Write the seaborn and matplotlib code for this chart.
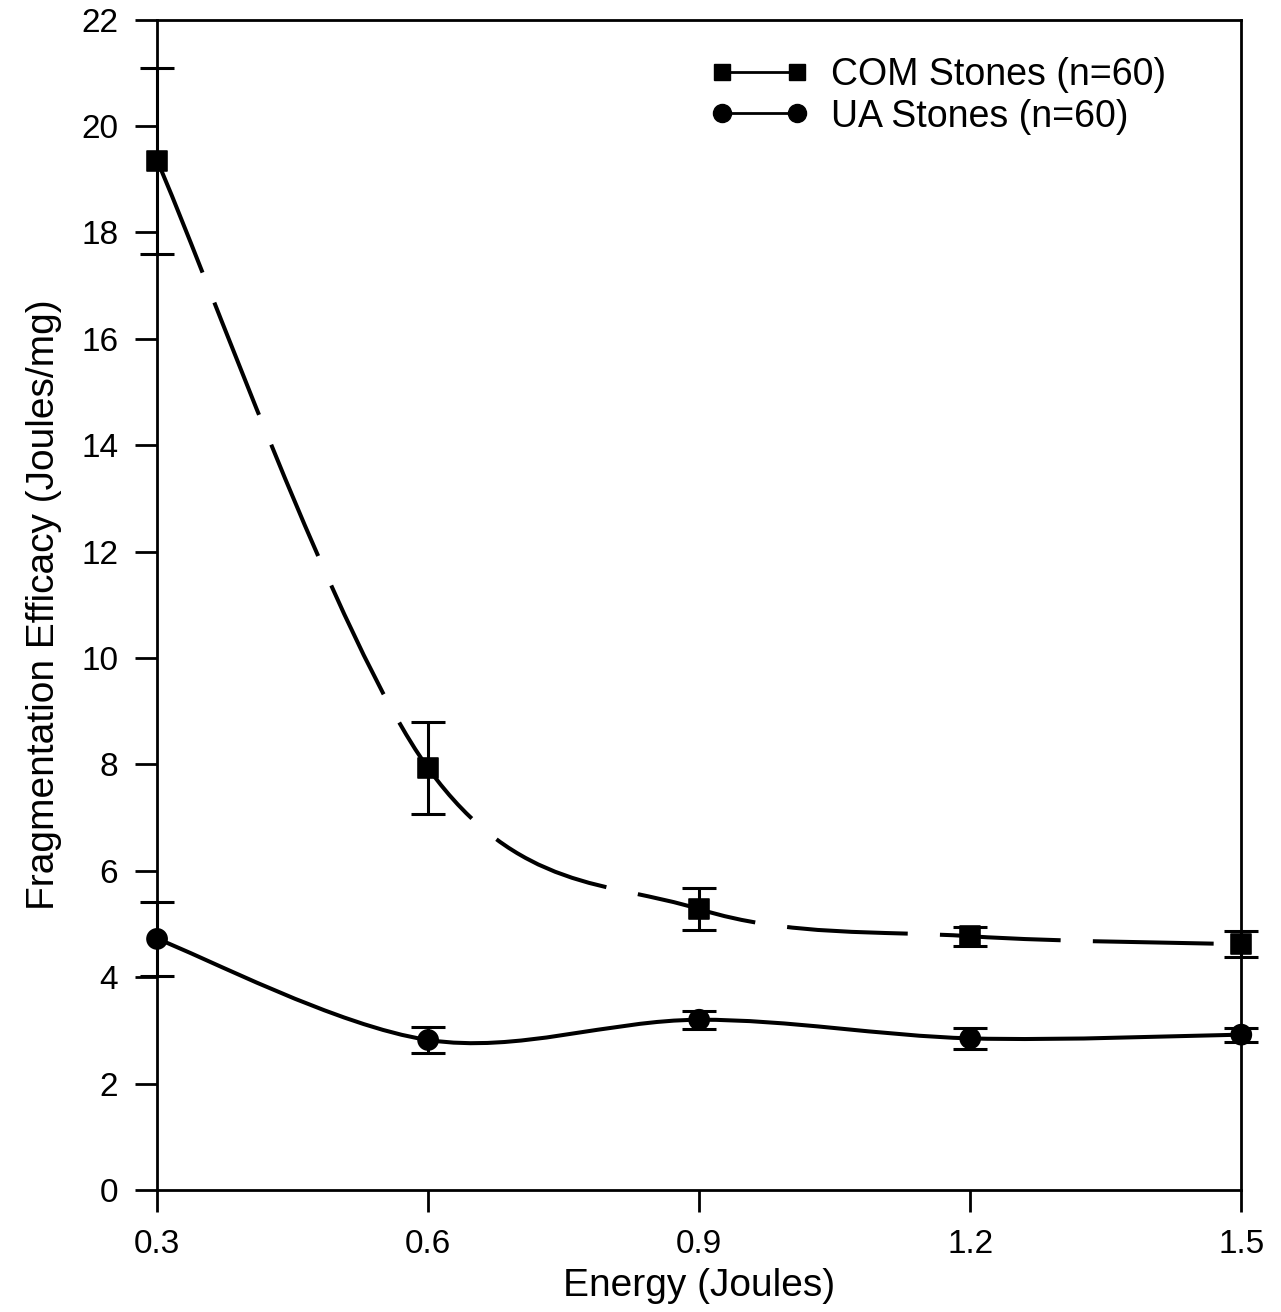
import numpy as np
import pandas as pd
import matplotlib
matplotlib.use("Agg")
import matplotlib.pyplot as plt
import seaborn as sns
from matplotlib.path import Path
from matplotlib.patches import PathPatch
from matplotlib.lines import Line2D

energy = [0.3, 0.6, 0.9, 1.2, 1.5]
com_mean = [19.35, 7.93, 5.28, 4.77, 4.62]
com_err = [1.75, 0.87, 0.40, 0.18, 0.24]
ua_mean = [4.72, 2.82, 3.20, 2.85, 2.92]
ua_err = [0.70, 0.25, 0.17, 0.20, 0.13]
xticks = [0.3, 0.6, 0.9, 1.2, 1.5]
yticks = list(range(0, 23, 2))

sns.set_theme(style="ticks")
plt.rcParams['font.family'] = ['Liberation Sans', 'DejaVu Sans']
plt.rcParams['text.color'] = 'black'
plt.rcParams['axes.labelcolor'] = 'black'

fig = plt.figure(figsize=(12.81, 13.12), dpi=100)
ax = fig.add_axes([0.1226, 0.093, 0.8464, 0.892])


def smooth_path(ax, xs, ys, **kw):
    # Catmull-Rom converted to cubic Bezier control points (drawing style only)
    pts = np.column_stack([xs, ys]).astype(float)
    n = len(pts)
    verts = [tuple(pts[0])]
    codes = [Path.MOVETO]
    for i in range(n - 1):
        p0 = pts[i - 1] if i > 0 else pts[i]
        p1 = pts[i]
        p2 = pts[i + 1]
        p3 = pts[i + 2] if i + 2 < n else pts[i + 1]
        c1 = p1 + (p2 - p0) / 6.0
        c2 = p2 - (p3 - p1) / 6.0
        verts += [tuple(c1), tuple(c2), tuple(p2)]
        codes += [Path.CURVE4] * 3
    patch = PathPatch(Path(verts, codes), facecolor="none", **kw)
    ax.add_patch(patch)


smooth_path(ax, energy, com_mean, edgecolor="black", lw=2.9,
            linestyle=(0, (30, 8)), capstyle="butt")
smooth_path(ax, energy, ua_mean, edgecolor="black", lw=2.9)

ax.errorbar(energy, com_mean, yerr=com_err, fmt="none", ecolor="black",
            elinewidth=2.2, capsize=12, capthick=2.2, clip_on=False, zorder=3)
ax.errorbar(energy, ua_mean, yerr=ua_err, fmt="none", ecolor="black",
            elinewidth=2.2, capsize=12, capthick=2.2, clip_on=False, zorder=3)

df = pd.DataFrame({"Energy": energy * 2,
                   "Efficacy": com_mean + ua_mean,
                   "Group": ["COM"] * 5 + ["UA"] * 5})
sns.scatterplot(data=df, x="Energy", y="Efficacy", style="Group",
                markers={"COM": "s", "UA": "o"}, color="black", s=210,
                edgecolor="black", legend=False, ax=ax, zorder=4, clip_on=False)

ax.set_xlim(0.3, 1.5)
ax.set_ylim(0, 22)
ax.set_xticks(xticks)
ax.set_xticklabels([f"{v:.1f}" for v in xticks])
ax.set_yticks(yticks)
ax.tick_params(axis="both", direction="out", length=16, width=2, colors="black",
               labelsize=24, pad=12)
for s in ax.spines.values():
    s.set_linewidth(2)
    s.set_color("black")

ax.set_xlabel("Energy (Joules)", fontsize=28, labelpad=6, color="black")
ax.set_ylabel("Fragmentation Efficacy (Joules/mg)", fontsize=28, labelpad=14,
              color="black")

handles = [
    Line2D([0], [0], color="black", lw=2, marker="s", markersize=12),
    Line2D([0], [0], color="black", lw=2, marker="o", markersize=13),
]
leg = ax.legend(handles, ["COM Stones (n=60)", "UA Stones (n=60)"],
                loc="upper right", bbox_to_anchor=(0.962, 0.997), frameon=False,
                numpoints=2, fontsize=27, handlelength=2.6, handletextpad=0.6,
                labelspacing=0.15)
for t in leg.get_texts():
    t.set_color("black")

fig.savefig("out.png", dpi=100, facecolor="white")
